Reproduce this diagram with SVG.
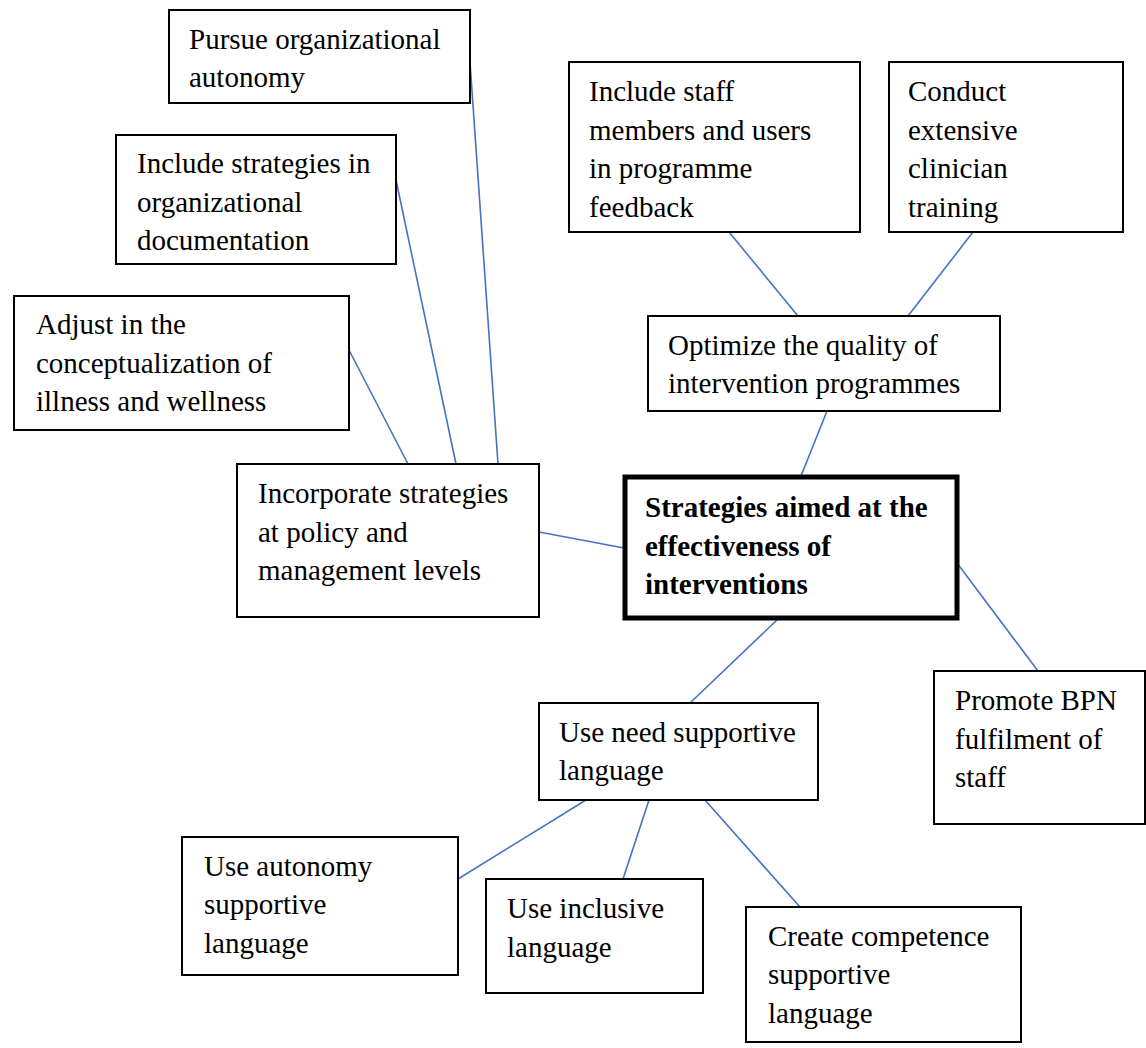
<svg xmlns="http://www.w3.org/2000/svg" width="1146" height="1048" viewBox="0 0 1146 1048">
  <style>
    .box { fill: #ffffff; stroke: #000000; stroke-width: 2; }
    .main { fill: #ffffff; stroke: #000000; stroke-width: 5; }
    .lbl { font-family: "Liberation Serif", "Times New Roman", serif; font-size: 29px; fill: #000000; }
    .bold { font-weight: bold; }
    .link { stroke: #4472C4; stroke-width: 1.6; fill: none; }
  </style>

  <!-- connectors -->
  <g id="connectors">
    <line class="link" x1="470" y1="62" x2="498" y2="464"/>
    <line class="link" x1="396" y1="180" x2="456" y2="464"/>
    <line class="link" x1="349" y1="350" x2="408" y2="464"/>
    <line class="link" x1="539" y1="532" x2="624" y2="548"/>
    <line class="link" x1="729" y1="232" x2="798" y2="316"/>
    <line class="link" x1="973" y1="232" x2="908" y2="316"/>
    <line class="link" x1="827" y1="411" x2="801" y2="476"/>
    <line class="link" x1="957" y1="563" x2="1038" y2="671"/>
    <line class="link" x1="779" y1="618" x2="690" y2="703"/>
    <line class="link" x1="586" y1="800" x2="458" y2="879"/>
    <line class="link" x1="649" y1="800" x2="623" y2="879"/>
    <line class="link" x1="705" y1="800" x2="800" y2="907"/>
  </g>

  <g id="pursue-autonomy">
    <rect class="box" x="169" y="10" width="301" height="93"/>
    <text class="lbl" x="189"><tspan x="189" y="49">Pursue organizational</tspan><tspan x="189" y="87">autonomy</tspan></text>
  </g>

  <g id="include-documentation">
    <rect class="box" x="116" y="135" width="280" height="129"/>
    <text class="lbl"><tspan x="137" y="173">Include strategies in</tspan><tspan x="137" y="212">organizational</tspan><tspan x="137" y="250">documentation</tspan></text>
  </g>

  <g id="adjust-conceptualization">
    <rect class="box" x="14" y="296" width="335" height="134"/>
    <text class="lbl"><tspan x="36" y="334">Adjust in the</tspan><tspan x="36" y="373">conceptualization of</tspan><tspan x="36" y="411">illness and wellness</tspan></text>
  </g>

  <g id="incorporate-policy">
    <rect class="box" x="237" y="464" width="302" height="153"/>
    <text class="lbl"><tspan x="258" y="503">Incorporate strategies</tspan><tspan x="258" y="542">at policy and</tspan><tspan x="258" y="580">management levels</tspan></text>
  </g>

  <g id="central-strategies">
    <rect class="main" x="625" y="477" width="332" height="141"/>
    <text class="lbl bold"><tspan x="645" y="517">Strategies aimed at the</tspan><tspan x="645" y="556">effectiveness of</tspan><tspan x="645" y="594">interventions</tspan></text>
  </g>

  <g id="include-staff-feedback">
    <rect class="box" x="569" y="62" width="291" height="170"/>
    <text class="lbl"><tspan x="589" y="101">Include staff</tspan><tspan x="589" y="140">members and users</tspan><tspan x="589" y="178">in programme</tspan><tspan x="589" y="217">feedback</tspan></text>
  </g>

  <g id="clinician-training">
    <rect class="box" x="889" y="62" width="234" height="170"/>
    <text class="lbl"><tspan x="908" y="101">Conduct</tspan><tspan x="908" y="140">extensive</tspan><tspan x="908" y="178">clinician</tspan><tspan x="908" y="217">training</tspan></text>
  </g>

  <g id="optimize-quality">
    <rect class="box" x="648" y="316" width="352" height="95"/>
    <text class="lbl"><tspan x="668" y="355">Optimize the quality of</tspan><tspan x="668" y="393">intervention programmes</tspan></text>
  </g>

  <g id="promote-bpn">
    <rect class="box" x="934" y="671" width="211" height="153"/>
    <text class="lbl"><tspan x="955" y="710">Promote BPN</tspan><tspan x="955" y="749">fulfilment of</tspan><tspan x="955" y="787">staff</tspan></text>
  </g>

  <g id="need-supportive">
    <rect class="box" x="539" y="703" width="279" height="97"/>
    <text class="lbl"><tspan x="559" y="742">Use need supportive</tspan><tspan x="559" y="780">language</tspan></text>
  </g>

  <g id="autonomy-supportive">
    <rect class="box" x="182" y="837" width="276" height="138"/>
    <text class="lbl"><tspan x="204" y="876">Use autonomy</tspan><tspan x="204" y="914">supportive</tspan><tspan x="204" y="953">language</tspan></text>
  </g>

  <g id="inclusive-language">
    <rect class="box" x="486" y="879" width="217" height="114"/>
    <text class="lbl"><tspan x="507" y="918">Use inclusive</tspan><tspan x="507" y="957">language</tspan></text>
  </g>

  <g id="competence-supportive">
    <rect class="box" x="746" y="907" width="275" height="135"/>
    <text class="lbl"><tspan x="768" y="946">Create competence</tspan><tspan x="768" y="984">supportive</tspan><tspan x="768" y="1023">language</tspan></text>
  </g>
</svg>
